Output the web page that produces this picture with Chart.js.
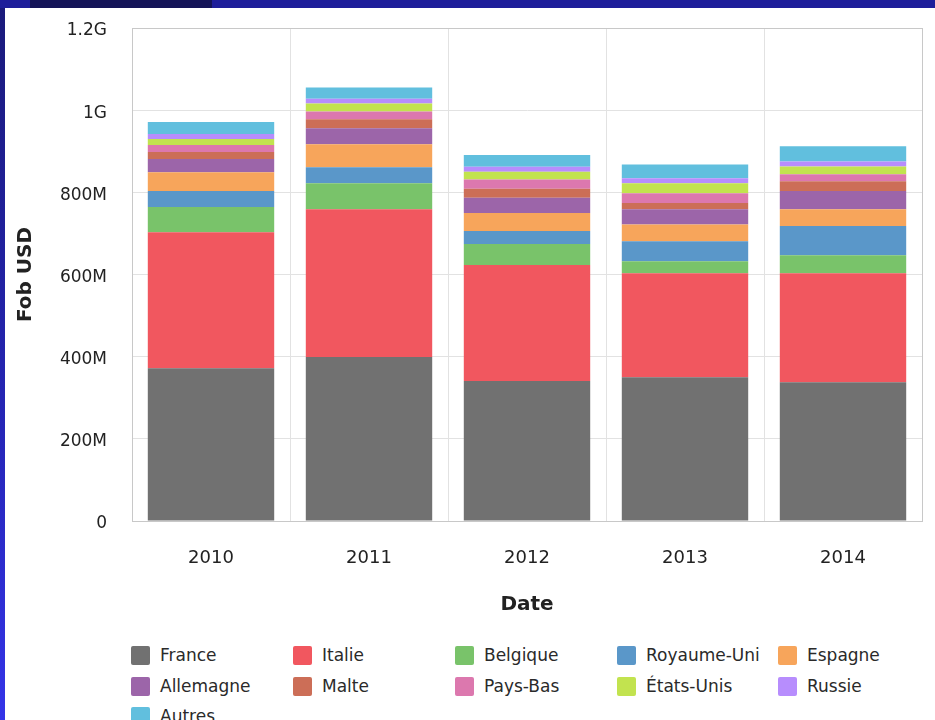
<!DOCTYPE html>
<html>
<head>
<meta charset="utf-8">
<script src="https://cdn.jsdelivr.net/npm/chart.js@4"></script>
<style>
  html, body { margin: 0; padding: 0; }
  body {
    width: 935px; height: 720px; overflow: hidden; position: relative;
    background: linear-gradient(#1a1a7a, #2626b8 60%, #3434e8);
    font-family: "DejaVu Sans", Verdana, sans-serif;
  }
  #topbar { position: absolute; left: 0; top: 0; width: 935px; height: 8px; background: #1e1e9a; }
  #topdark { position: absolute; left: 30px; top: 0; width: 182px; height: 8px; background: #141458; }
  #sheet { position: absolute; left: 5px; top: 8px; width: 930px; height: 712px; background: #fff; }
  #chartBox { position: absolute; left: 0; top: 0; width: 930px; height: 620px; }
  .lg { position: absolute; font-size: 17px; color: #2a2a2a; white-space: nowrap; }
  .lg span.box { position: absolute; left: 0; top: 0; width: 19px; height: 19px; border-radius: 2px; }
  .lg span.txt { position: absolute; left: 29px; top: -1px; }
</style>
</head>
<body>
<div id="topbar"></div>
<div id="topdark"></div>
<div id="sheet">
  <div id="chartBox"><canvas id="fobChart"></canvas></div>
  <div id="legend"></div>
</div>
<script>
// years on the x axis
const years = ['2010', '2011', '2012', '2013', '2014'];

// Fob USD by destination, in millions
const france    = [372, 399, 341, 350, 338];
const italie    = [331, 360, 282, 253, 265];
const belgique  = [61, 63, 51, 29, 44];
const royaumeUni = [39, 39, 32, 49, 71];
const espagne   = [46, 56, 44, 41, 41];
const allemagne = [32, 39, 37, 37, 44];
const malte     = [17, 22, 22, 15, 24];
const paysBas   = [17, 19, 22, 24, 17];
const etatsUnis = [15, 19, 19, 24, 19];
const russie    = [12, 12, 12, 12, 12];
const autres    = [29, 27, 29, 34, 37];

const seriesNames = ['France', 'Italie', 'Belgique', 'Royaume-Uni', 'Espagne',
  'Allemagne', 'Malte', 'Pays-Bas', 'États-Unis', 'Russie', 'Autres'];
const seriesValues = [france, italie, belgique, royaumeUni, espagne,
  allemagne, malte, paysBas, etatsUnis, russie, autres];
const seriesColors = ['#717171', '#f1575f', '#79c36a', '#5a97c9', '#f7a55b',
  '#9c65a9', '#cc6e57', '#dc78ae', '#c2e34f', '#b78dfd', '#61bfde'];

const yTicks = [0, 200, 400, 600, 800, 1000, 1200];

function fmt(v) {
  if (v === 0) return '0';
  if (v >= 1000) return (v / 1000) + 'G';
  return v + 'M';
}

const datasets = seriesNames.map((name, i) => ({
  label: name,
  data: seriesValues[i].map(v => v),
  backgroundColor: seriesColors[i],
  borderWidth: 0,
  barPercentage: 1,
  categoryPercentage: 0.8
}));

const frame = {
  id: 'frame',
  afterDraw(chart) {
    const a = chart.chartArea, c = chart.ctx;
    c.save();
    c.strokeStyle = '#c8c8c8';
    c.lineWidth = 1;
    c.strokeRect(Math.round(a.left) + 0.5, Math.round(a.top) + 0.5,
      Math.round(a.right - a.left), Math.round(a.bottom - a.top));
    c.restore();
  }
};

const ctx = document.getElementById('fobChart');
new Chart(ctx, {
  type: 'bar',
  data: { labels: years, datasets: datasets },
  options: {
    responsive: true,
    maintainAspectRatio: false,
    animation: false,
    layout: { padding: { left: 0, right: 13, top: 20, bottom: 0 } },
    plugins: { legend: { display: false }, tooltip: { enabled: false } },
    scales: {
      x: {
        stacked: true,
        grid: { color: '#e2e2e2', drawTicks: false },
        border: { color: '#c8c8c8' },
        ticks: { color: '#222', font: { family: 'DejaVu Sans', size: 18 }, padding: 27 },
        title: { display: true, text: 'Date', color: '#222',
          font: { family: 'DejaVu Sans', size: 20, weight: 'bold' }, padding: { top: 0, bottom: 11 } },
        afterFit(s) { s.height = 107; }
      },
      y: {
        stacked: true,
        min: 0,
        max: 1200,
        afterBuildTicks(s) { s.ticks = yTicks.map(v => ({ value: v })); },
        grid: { color: '#e2e2e2', drawTicks: false },
        border: { color: '#c8c8c8' },
        ticks: { color: '#222', font: { family: 'DejaVu Sans', size: 17 }, padding: 25, labelOffset: 3,
          callback: v => fmt(v) },
        title: { display: true, text: 'Fob USD', color: '#222',
          font: { family: 'DejaVu Sans', size: 20, weight: 'bold' }, padding: { top: 9, bottom: 0 } },
        afterFit(s) { s.width = 127; s.paddingTop = 0; s.paddingBottom = 0; }
      }
    }
  },
  plugins: [frame]
});

// legend laid out on a grid like the original
const legend = document.getElementById('legend');
const colX = [126, 288, 450, 612, 773];
const rowY = [638, 669, 699];
seriesNames.forEach((name, i) => {
  const d = document.createElement('div');
  d.className = 'lg';
  d.style.left = colX[i % 5] + 'px';
  d.style.top = rowY[Math.floor(i / 5)] + 'px';
  d.innerHTML = '<span class="box" style="background:' + seriesColors[i] + '"></span><span class="txt">' + name + '</span>';
  legend.appendChild(d);
});
</script>
</body>
</html>
